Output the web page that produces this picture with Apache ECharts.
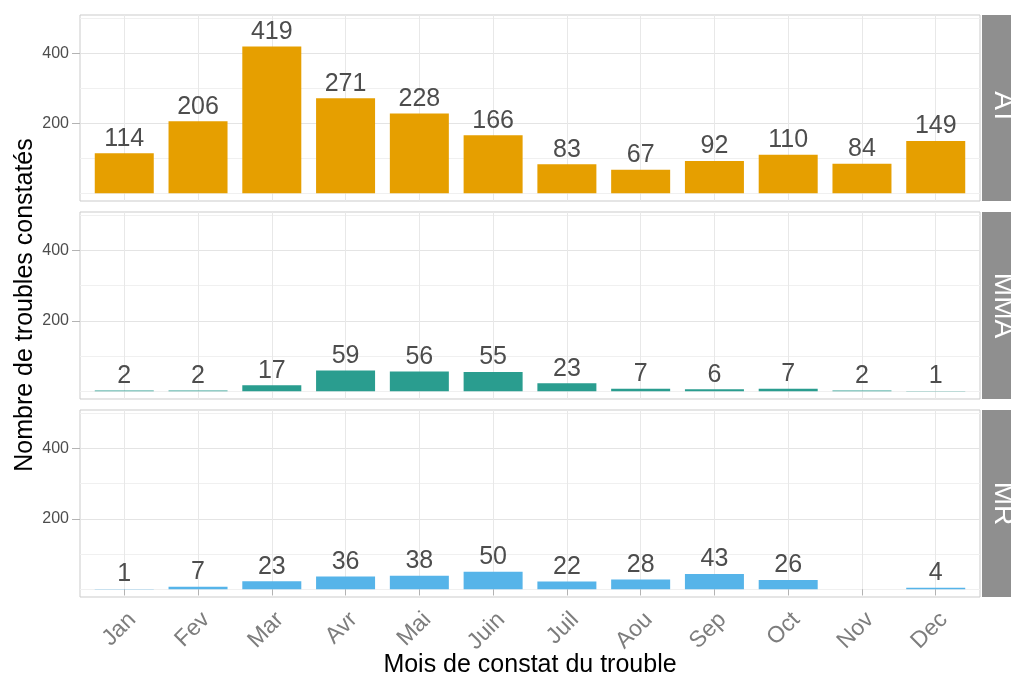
<!DOCTYPE html>
<html>
<head>
<meta charset="utf-8">
<script src="https://cdn.jsdelivr.net/npm/echarts@6/dist/echarts.min.js"></script>
<style>
  html, body { margin: 0; padding: 0; background: #fff; }
  #chart { width: 1011px; height: 680px; }
</style>
</head>
<body>
<div id="chart"></div>
<script>
// données
const mois = ['Jan', 'Fev', 'Mar', 'Avr', 'Mai', 'Juin', 'Juil', 'Aou', 'Sep', 'Oct', 'Nov', 'Dec'];
const valAT = [114, 206, 419, 271, 228, 166, 83, 67, 92, 110, 84, 149];
const valMMA = [2, 2, 17, 59, 56, 55, 23, 7, 6, 7, 2, 1];
const valMR = [1, 7, 23, 36, 38, 50, 22, 28, 43, 26, null, 4];
const panneaux = ['AT', 'MMA', 'MR'];
const couleurs = ['#E69F00', '#2A9D8F', '#56B4E9'];
const yTicks = [200, 400];
const yGrille = [0, 100, 200, 300, 400, 500];

const FONT = 'Liberation Sans, Arial, sans-serif';
const positions = mois.map((m, i) => i + 1); // axe discret façon ggplot (expansion 0.6)
const panels = [
  { top: 15, height: 186 },
  { top: 212, height: 187 },
  { top: 410, height: 187 }
];
const valeurs = [valAT, valMMA, valMR];

const chart = echarts.init(document.getElementById('chart'));

const grids = panels.map(p => ({
  left: 80, width: 900, top: p.top, height: p.height,
  show: true, borderColor: '#cbcbcb', borderWidth: 1, backgroundColor: 'transparent'
}));

const xAxes = panels.map((p, i) => ({
  type: 'value', gridIndex: i, min: 0.4, max: 12.6,
  axisLine: { show: false },
  axisTick: { show: i === 2, customValues: positions, length: 6, lineStyle: { color: '#b3b3b3' } },
  axisLabel: {
    show: i === 2, customValues: positions, rotate: 45, margin: 11,
    fontSize: 23, color: '#7d7d7d', fontFamily: FONT, verticalAlign: 'top',
    formatter: v => mois[Math.round(v) - 1]
  },
  splitLine: { show: false }
}));

const yAxes = panels.map((p, i) => ({
  type: 'value', gridIndex: i, min: -22, max: 509,
  axisLine: { show: false },
  axisTick: { show: true, customValues: yTicks, length: 8, lineStyle: { color: '#b3b3b3' } },
  axisLabel: { customValues: yTicks, fontSize: 16, color: '#4d4d4d', margin: 11, fontFamily: FONT },
  splitLine: { show: false }
}));

const series = [];
panels.forEach((p, i) => {
  // grille (sous les barres)
  series.push({
    type: 'line', xAxisIndex: i, yAxisIndex: i, silent: true, z: 0,
    data: positions.map(x => [x, null]), symbol: 'none',
    markLine: {
      silent: true, symbol: 'none', animation: false, z: 0,
      label: { show: false },
      emphasis: { disabled: true },
      lineStyle: { color: '#ebebeb', width: 1, type: 'solid' },
      data: yGrille.map(v => ({ yAxis: v, lineStyle: { color: v % 200 === 0 && v > 0 ? '#e4e4e4' : '#f0f0f0' } }))
        .concat(positions.map(x => ({ xAxis: x, lineStyle: { color: '#e8e8e8' } })))
    }
  });
  series.push({
    type: 'bar', xAxisIndex: i, yAxisIndex: i, z: 5,
    data: valeurs[i].map((v, k) => [positions[k], v == null ? '-' : v]),
    barWidth: 59,
    itemStyle: { color: couleurs[i] },
    label: {
      show: true, position: 'top', distance: 2,
      fontSize: 25, color: '#4d4d4d', fontFamily: FONT,
      formatter: d => d.value[1]
    },
    animation: false
  });
});

const graphics = [];
panels.forEach((p, i) => {
  graphics.push({
    type: 'rect', left: 982, top: p.top, shape: { width: 40, height: p.height },
    style: { fill: '#8f8f8f' }, silent: true
  });
  graphics.push({
    type: 'text', x: 1003, y: p.top + p.height / 2, rotation: -Math.PI / 2,
    style: {
      text: panneaux[i], fill: '#fff', fontSize: 28, fontFamily: FONT,
      textAlign: 'center', textVerticalAlign: 'middle'
    }, silent: true
  });
});
graphics.push({
  type: 'text', x: 25, y: 305, rotation: Math.PI / 2,
  style: {
    text: 'Nombre de troubles constatés', fill: '#000', fontSize: 25, fontFamily: FONT,
    textAlign: 'center', textVerticalAlign: 'middle'
  }
});
graphics.push({
  type: 'text', x: 530, y: 665,
  style: {
    text: 'Mois de constat du trouble', fill: '#000', fontSize: 25, fontFamily: FONT,
    textAlign: 'center', textVerticalAlign: 'middle'
  }
});

chart.setOption({
  backgroundColor: '#fff',
  animation: false,
  grid: grids,
  xAxis: xAxes,
  yAxis: yAxes,
  series: series,
  graphic: graphics
});
</script>
</body>
</html>
